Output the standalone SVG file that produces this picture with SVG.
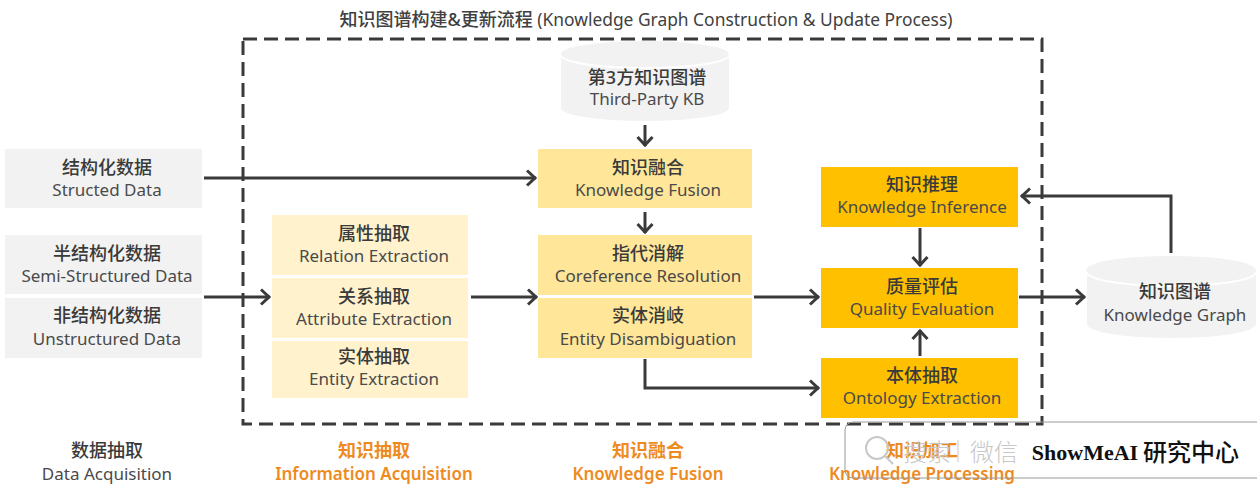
<svg xmlns="http://www.w3.org/2000/svg" width="1257" height="484" viewBox="0 0 1257 484">
<defs>
<style>
text{font-family:"Noto Sans","Noto Sans CJK SC",sans-serif;text-anchor:middle;fill:#404040}
.zh{font-size:18px;font-weight:500;fill:#3a3a3a}
.en{font-size:17px;fill:#4a4a4a}
.g{fill:#f2f2f2}.l{fill:#fff2cc}.m{fill:#ffe699}.d{fill:#ffc000}
text.o{fill:#ed8b1f;font-weight:600}
text.zh.o{font-weight:700}
text.w{fill:#c8c8c8;font-size:24px;font-weight:300}
.c{fill:none;stroke:#3a3a3a;stroke-width:3}
</style>
<marker id="a" markerUnits="userSpaceOnUse" markerWidth="16" markerHeight="20" refX="14" refY="10" orient="auto"><path d="M5 2.5L13 10L5 17.5" fill="none" stroke="#3a3a3a" stroke-width="3"/></marker>
</defs>
<rect width="1257" height="484" fill="#fff"/>
<text x="646" y="25.500" font-size="17.4"><tspan font-size="18" font-weight="500">知识图谱构建&amp;更新流程</tspan> (Knowledge Graph Construction &amp; Update Process)</text>
<rect x="243" y="39" width="799" height="385" fill="none" stroke="#3a3a3a" stroke-width="3" stroke-dasharray="14 7"/>
<g id="n-third"><path class="g" d="M561 55V108A84 13 0 0 0 729 108V55Z"/><ellipse class="g" cx="645" cy="54" rx="84" ry="13"/><path d="M561 55A84 13 0 0 0 729 55" fill="none" stroke="#fff" stroke-width="2"/><text class="zh" x="647" y="84">第3方知识图谱</text><text class="en" x="647" y="105">Third-Party KB</text></g>
<g id="n-struct"><rect class="g" x="5" y="149" width="197" height="59"/><text class="zh" x="107" y="174">结构化数据</text><text class="en" x="107" y="196">Structed Data</text></g>
<g id="n-semi"><rect class="g" x="5" y="235" width="197" height="59"/><text class="zh" x="107" y="260">半结构化数据</text><text class="en" x="107" y="282">Semi-Structured Data</text></g>
<g id="n-unstruct"><rect class="g" x="5" y="298" width="197" height="60"/><text class="zh" x="107" y="322">非结构化数据</text><text class="en" x="107" y="345">Unstructured Data</text></g>
<g id="n-rel"><rect class="l" x="272" y="215" width="196" height="60"/><text class="zh" x="374" y="240">属性抽取</text><text class="en" x="374" y="262">Relation Extraction</text></g>
<g id="n-attr"><rect class="l" x="272" y="278" width="196" height="60"/><text class="zh" x="374" y="303">关系抽取</text><text class="en" x="374" y="325">Attribute Extraction</text></g>
<g id="n-ent"><rect class="l" x="272" y="341" width="196" height="57"/><text class="zh" x="374" y="363">实体抽取</text><text class="en" x="374" y="385">Entity Extraction</text></g>
<g id="n-fusion"><rect class="m" x="538" y="149" width="214" height="59"/><text class="zh" x="648" y="174">知识融合</text><text class="en" x="648" y="196">Knowledge Fusion</text></g>
<g id="n-coref"><rect class="m" x="538" y="235" width="214" height="60"/><text class="zh" x="648" y="260">指代消解</text><text class="en" x="648" y="282">Coreference Resolution</text></g>
<g id="n-disamb"><rect class="m" x="538" y="298" width="214" height="60"/><text class="zh" x="648" y="322">实体消岐</text><text class="en" x="648" y="345">Entity Disambiguation</text></g>
<g id="n-infer"><rect class="d" x="821" y="167" width="197" height="60"/><text class="zh" x="922" y="191">知识推理</text><text class="en" x="922" y="213">Knowledge Inference</text></g>
<g id="n-quality"><rect class="d" x="821" y="268" width="197" height="60"/><text class="zh" x="922" y="293">质量评估</text><text class="en" x="922" y="315">Quality Evaluation</text></g>
<g id="n-onto"><rect class="d" x="821" y="358" width="197" height="60"/><text class="zh" x="922" y="382">本体抽取</text><text class="en" x="922" y="404">Ontology Extraction</text></g>
<g id="n-kg"><path class="g" d="M1087 271V324A84 14 0 0 0 1256 324V271Z"/><ellipse class="g" cx="1171" cy="270" rx="85" ry="14"/><path d="M1087 272A84 14 0 0 0 1256 272" fill="none" stroke="#fff" stroke-width="2"/><text class="zh" x="1175" y="298">知识图谱</text><text class="en" x="1175" y="321">Knowledge Graph</text></g>
<g id="connectors">
<path class="c" marker-end="url(#a)" d="M204 178H536"/>
<path class="c" marker-end="url(#a)" d="M204 297H270"/>
<path class="c" marker-end="url(#a)" d="M471 297H537"/>
<path class="c" marker-end="url(#a)" d="M754 297H819"/>
<path class="c" marker-end="url(#a)" d="M645 125V146"/>
<path class="c" marker-end="url(#a)" d="M645 212V233"/>
<path class="c" marker-end="url(#a)" d="M645 359V388H819"/>
<path class="c" marker-end="url(#a)" d="M920 228V266"/>
<path class="c" marker-end="url(#a)" d="M920 356V330"/>
<path class="c" marker-end="url(#a)" d="M1019 297H1085"/>
<path class="c" marker-end="url(#a)" d="M1171 253V196H1021"/>
</g>
<g id="stage-labels">
<text class="zh" x="107" y="457">数据抽取</text><text class="en" x="107" y="480">Data Acquisition</text>
<text class="zh o" x="374" y="457">知识抽取</text><text class="en o" x="374" y="480">Information Acquisition</text>
<text class="zh o" x="648" y="457">知识融合</text><text class="en o" x="648" y="480">Knowledge Fusion</text>
<text class="zh o" x="922" y="457">知识加工</text><text class="en o" x="922" y="480">Knowledge Processing</text>
</g>
<g id="watermark">
<rect x="845" y="422" width="420" height="56" rx="8" fill="none" stroke="#9a9a9a"/>
<circle cx="877" cy="448" r="11" fill="none" stroke="#c8c8c8" stroke-width="2"/><path d="M885 456L893 464" stroke="#c8c8c8" stroke-width="2"/>
<text class="w" x="927" y="461">搜索</text>
<path d="M958 440V462" stroke="#c8c8c8"/>
<text class="w" x="994" y="461">微信</text>
<text x="1085" y="460" font-size="22" font-weight="700" style="fill:#111;font-family:'Liberation Serif',serif">ShowMeAI</text>
<text x="1191" y="461" font-size="24" font-weight="500" style="fill:#111">研究中心</text>
</g>
</svg>
